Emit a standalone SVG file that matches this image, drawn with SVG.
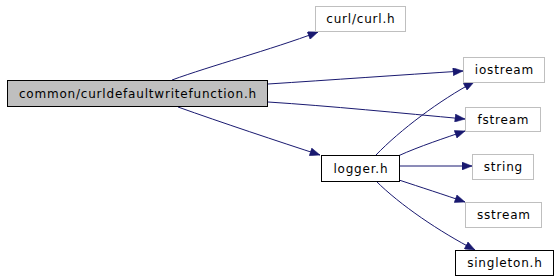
<svg xmlns="http://www.w3.org/2000/svg" width="557" height="279" viewBox="0 0 557 279">
<defs>
<style>
.lbl{font-family:"DejaVu Sans",sans-serif;font-size:12px;letter-spacing:0.8px;fill:#000;text-anchor:middle}
.ext rect{fill:#fff;stroke:#bfbfbf;stroke-width:1}
.int rect{fill:#fff;stroke:#000;stroke-width:1}
.cur rect{fill:#bfbfbf;stroke:#000;stroke-width:1}
.edge{fill:none;stroke:#191970;stroke-width:1}
</style>
<marker id="arr" viewBox="0 0 10 8" refX="10" refY="4" markerWidth="11" markerHeight="8" markerUnits="userSpaceOnUse" orient="auto">
<path d="M0,0 L10,4 L0,8 Z" fill="#191970" stroke="#191970" stroke-width="0.5"/>
</marker>
</defs>
<rect width="557" height="279" fill="#fff"/>
<g id="connectors">
<path class="edge" marker-end="url(#arr)" d="M172,80 C210,66 270,50 318,32"/>
<path class="edge" marker-end="url(#arr)" d="M268,84 C330,80 400,75 463,71"/>
<path class="edge" marker-end="url(#arr)" d="M268,102 C330,106 400,113 465,119"/>
<path class="edge" marker-end="url(#arr)" d="M178,107 C220,122 280,142 320,155"/>
<path class="edge" marker-end="url(#arr)" d="M376,155 C400,130 440,100 474,82"/>
<path class="edge" marker-end="url(#arr)" d="M398,156 C420,146 445,138 465,131"/>
<path class="edge" marker-end="url(#arr)" d="M399,166 L472,166"/>
<path class="edge" marker-end="url(#arr)" d="M399,180 C420,187 445,195 465,202"/>
<path class="edge" marker-end="url(#arr)" d="M376,181 C400,205 440,232 475,250"/>
</g>
<g id="node-main" class="cur">
<rect x="7.5" y="80.5" width="260" height="26"/>
<text class="lbl" x="137.9" y="98">common/curldefaultwritefunction.h</text>
</g>
<g id="node-curl" class="ext">
<rect x="315.5" y="6.5" width="90" height="25"/>
<text class="lbl" x="360.9" y="23">curl/curl.h</text>
</g>
<g id="node-iostream" class="ext">
<rect x="463.5" y="57.5" width="81" height="25"/>
<text class="lbl" x="504.4" y="74">iostream</text>
</g>
<g id="node-fstream" class="ext">
<rect x="465.5" y="107.5" width="75" height="24"/>
<text class="lbl" x="503.4" y="124">fstream</text>
</g>
<g id="node-logger" class="int">
<rect x="321.5" y="155.5" width="78" height="26"/>
<text class="lbl" x="360.9" y="172.5">logger.h</text>
</g>
<g id="node-string" class="ext">
<rect x="472.5" y="154.5" width="61" height="25"/>
<text class="lbl" x="503.4" y="171">string</text>
</g>
<g id="node-sstream" class="ext">
<rect x="465.5" y="202.5" width="76" height="25"/>
<text class="lbl" x="503.9" y="219">sstream</text>
</g>
<g id="node-singleton" class="int">
<rect x="455.5" y="250.5" width="98" height="25"/>
<text class="lbl" x="504.9" y="267">singleton.h</text>
</g>
</svg>
